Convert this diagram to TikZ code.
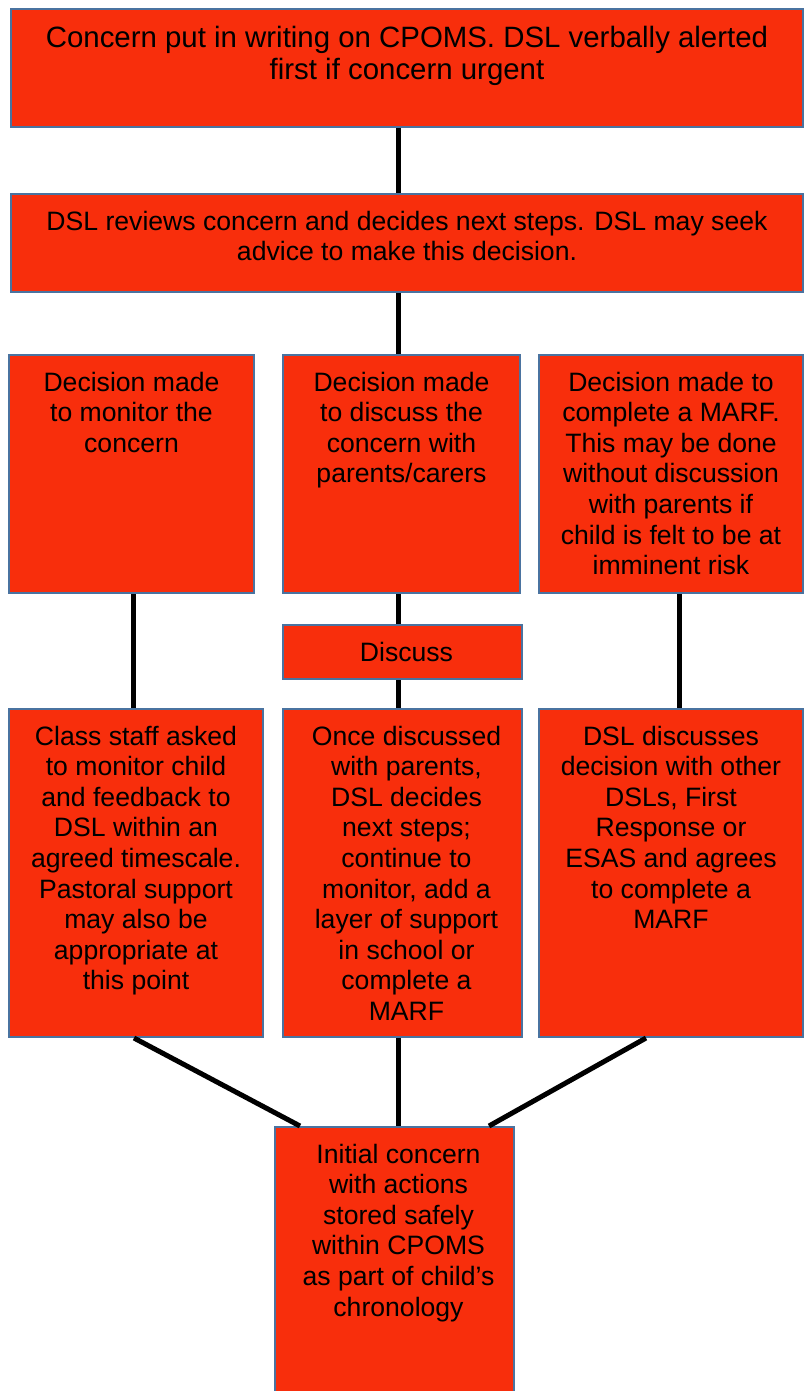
\documentclass[tikz,border=0pt]{standalone}
\usepackage{fontspec}
\setmainfont{Liberation Sans}
\usetikzlibrary{calc}

\definecolor{stagefill}{RGB}{248,46,12}
\definecolor{stageedge}{RGB}{74,115,160}

% width, height, text (optional: depth of first baseline)
\newcommand{\boxtext}[4][36pt]{\parbox[t][#3][t]{#2}{\centering\rule{0pt}{#1}#4}}
% text a little right of the middle
\newcommand{\nudge}{\leftskip=8pt plus 1fil\relax}

\begin{document}
\begin{tikzpicture}[x=1pt, y=-1pt,
        stage/.style={draw=stageedge, fill=stagefill, line width=2pt, inner sep=0pt, anchor=north west,
            font=\fontsize{26.6}{30.6}\selectfont},
        link/.style={line width=5pt, black},
        ]
    \useasboundingbox (0,0) rectangle (803,1391);

	\node (concern) at (10, 8) [stage, font=\fontsize{29.4}{32}\selectfont]
        {\boxtext[39pt]{792pt}{118pt}{Concern put in writing on CPOMS. DSL verbally alerted\\first if concern urgent}};
	\node (review) at (10, 193) [stage]
        {\boxtext{792pt}{98pt}{DSL reviews concern and decides next steps. DSL may seek\\advice to make this decision.}};

    % three decisions
	\node (monitor) at (8, 354) [stage] {\boxtext{245pt}{238pt}{Decision made\\to monitor the\\concern}};
	\node (talk) at (282, 354) [stage] {\boxtext{237pt}{238pt}{Decision made\\to discuss the\\concern with\\parents/carers}};
	\node (marf) at (538, 354) [stage]
        {\boxtext{264pt}{238pt}{Decision made to\\complete a MARF.\\This may be done\\without discussion\\with parents if\\child is felt to be at\\imminent risk}};

	\node (discuss) at (282, 624) [stage] {\boxtext{239pt}{54pt}{\nudge Discuss}};

    % actions
	\node (staff) at (8, 708) [stage]
        {\boxtext{254pt}{328pt}{Class staff asked\\to monitor child\\and feedback to\\DSL within an\\agreed timescale.\\Pastoral support\\may also be\\appropriate at\\this point}};
	\node (parents) at (282, 708) [stage]
        {\boxtext{239pt}{328pt}{\nudge Once discussed\\with parents,\\DSL decides\\next steps;\\continue to\\monitor, add a\\layer of support\\in school or\\complete a\\MARF}};
	\node (dsls) at (538, 708) [stage]
        {\boxtext{264pt}{328pt}{DSL discusses\\decision with other\\DSLs, First\\Response or\\ESAS and agrees\\to complete a\\MARF}};

	\node (record) at (274, 1126) [stage]
        {\boxtext{239pt}{280pt}{\nudge Initial concern\\with actions\\stored safely\\within CPOMS\\as part of child’s\\chronology}};

    \draw [link] ([xshift=-3pt]concern.south -| talk.north) -- ([xshift=-3pt]review.north -| talk.north);
    \draw [link] ([xshift=-3pt]review.south -| talk.north) -- ([xshift=-3pt]talk.north);
    \draw [link] ([xshift=-3pt]talk.south) -- ([xshift=-3pt]talk.south |- discuss.north);
    \draw [link] ([xshift=-3pt]talk.south |- discuss.south) -- ([xshift=-3pt]talk.south |- parents.north);
    \draw [link] ([xshift=2pt]monitor.south) -- ([xshift=2pt]monitor.south |- staff.north);
    \draw [link] ([xshift=8pt]marf.south) -- ([xshift=8pt]marf.south |- dsls.north);

    \draw [link] ([xshift=-2pt]staff.south) -- ($(record.north west) + (26, 0)$);
    \draw [link] ([xshift=-3pt]talk.south |- parents.south) -- ([xshift=-3pt]talk.south |- record.north);
    \draw [link] ([xshift=-25pt]dsls.south) -- ($(record.north east) + (-26, 0)$);
\end{tikzpicture}
\end{document}
